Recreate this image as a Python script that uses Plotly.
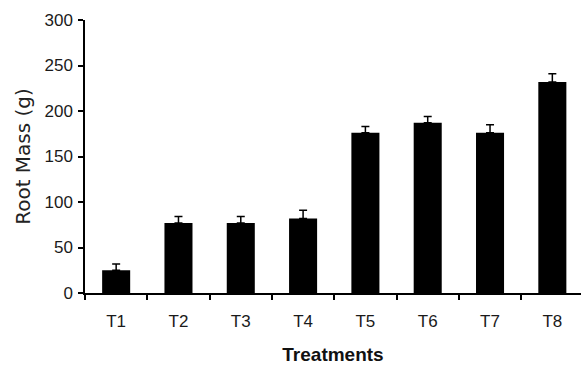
import plotly.graph_objects as go

categories = ["T1", "T2", "T3", "T4", "T5", "T6", "T7", "T8"]
root_mass = [25, 77, 77, 82, 176, 187, 176, 232]
errors = [7, 7, 7, 9, 7, 7, 9, 9]
y_ticks = [0, 50, 100, 150, 200, 250, 300]

fig = go.Figure()
fig.add_trace(go.Bar(
    x=categories, y=root_mass,
    marker=dict(color="black", line=dict(width=0)),
    width=0.45, cliponaxis=False,
    error_y=dict(type="data", array=errors, arrayminus=[0]*len(errors),
                 symmetric=False, color="black", thickness=1.5, width=4),
))

font = "Liberation Sans, Arial, sans-serif"
fig.update_layout(
    width=581, height=365,
    margin=dict(l=85, r=0, t=20, b=72),
    paper_bgcolor="white", plot_bgcolor="white",
    showlegend=False,
    font=dict(family=font, size=17, color="#1a1a1a"),
    xaxis=dict(
        type="category", range=[-0.5, 7.46], automargin=False,
        tickson="boundaries", ticks="outside", ticklen=5, tickwidth=1.5, tickcolor="black",
        showline=True, linecolor="black", linewidth=1.5,
        showgrid=False, ticklabelstandoff=12,
        title=dict(text="<b>Treatments</b>", font=dict(size=19, color="#111"), standoff=22),
    ),
    yaxis=dict(
        range=[0, 300], tickvals=y_ticks, automargin=False,
        ticks="outside", ticklen=5, tickwidth=1.5, tickcolor="black",
        showline=True, linecolor="black", linewidth=1.5,
        showgrid=False, zeroline=False, ticklabelstandoff=2,
        title=dict(text="Root Mass (g)", font=dict(family="DejaVu Sans, sans-serif", size=20, color="#222"), standoff=8),
    ),
)
fig.write_html(
    "out.html",
    config={"displayModeBar": False},
    post_script="document.body.style.margin='0';document.body.style.overflow='hidden';",
)
